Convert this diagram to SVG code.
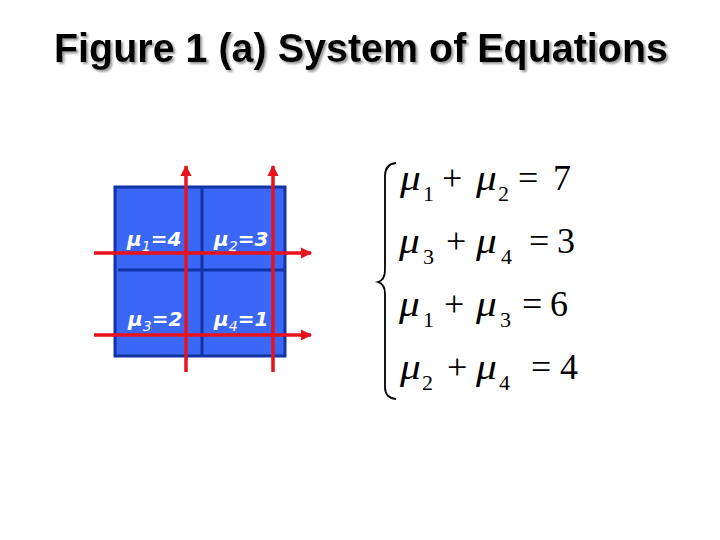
<svg xmlns="http://www.w3.org/2000/svg" width="720" height="540" viewBox="0 0 720 540">
<defs>
<style>
.title{font-family:"Liberation Sans",Arial,sans-serif;font-weight:bold;font-size:40px;fill:#000}
.lbl{font-family:"DejaVu Sans",Verdana,sans-serif;font-weight:bold;font-style:italic;font-size:20px;fill:#ffffff}
.lsub{font-size:14px;font-weight:normal}
.eq{font-family:"Liberation Serif","Times New Roman",serif;font-size:36px;fill:#000}
.mu{font-style:italic}
.sub{font-family:"Liberation Serif","Times New Roman",serif;font-size:22px;fill:#000}
.cell{fill:#3a67f5;stroke:#1232a8;stroke-width:3}
.arrow{stroke:#e8121c;stroke-width:3.5;fill:none}
</style>
<filter id="sh" x="-5%" y="-20%" width="110%" height="150%">
<feDropShadow dx="2" dy="2" stdDeviation="1" flood-color="#808080" flood-opacity="0.8"/>
</filter>
<marker id="ah" viewBox="0 0 10 10" refX="9" refY="5" markerWidth="3.6" markerHeight="3.2" orient="auto" markerUnits="strokeWidth">
<path d="M0,0 L10,5 L0,10 z" fill="#e8121c"/>
</marker>
</defs>
<rect width="720" height="540" fill="#ffffff"/>
<g id="title">
<text class="title" x="54" y="62" textLength="614" lengthAdjust="spacingAndGlyphs" filter="url(#sh)">Figure 1 (a) System of Equations</text>
</g>
<g id="grid">
<rect class="cell" x="115" y="187" width="170" height="169"/>
<line x1="202" y1="187" x2="202" y2="356" stroke="#1232a8" stroke-width="3"/>
<line x1="118" y1="270" x2="284" y2="270" stroke="#1232a8" stroke-width="3"/>
</g>
<g id="cell1"><text class="lbl" x="127" y="246">μ<tspan class="lsub" dy="5">1</tspan><tspan dy="-5">=4</tspan></text></g>
<g id="cell2"><text class="lbl" x="214" y="246">μ<tspan class="lsub" dy="5">2</tspan><tspan dy="-5">=3</tspan></text></g>
<g id="cell3"><text class="lbl" x="128" y="326">μ<tspan class="lsub" dy="5">3</tspan><tspan dy="-5">=2</tspan></text></g>
<g id="cell4"><text class="lbl" x="214" y="326">μ<tspan class="lsub" dy="5">4</tspan><tspan dy="-5">=1</tspan></text></g>
<g id="connectors">
<line class="arrow" x1="186" y1="372" x2="186" y2="166" marker-end="url(#ah)"/>
<line class="arrow" x1="273" y1="372" x2="273" y2="166" marker-end="url(#ah)"/>
<line class="arrow" x1="94" y1="253" x2="311" y2="253" marker-end="url(#ah)"/>
<line class="arrow" x1="94" y1="335" x2="311" y2="335" marker-end="url(#ah)"/>
</g>
<g id="equations">
<path d="M396,163 Q385,164 385,176 L385,270 Q385,280 378,282 Q385,284 385,294 L385,387 Q385,398 396,399" fill="none" stroke="#000" stroke-width="1.8"/>
<text class="eq mu" transform="translate(400,190) scale(1.15,1)">μ</text><text class="sub" x="423" y="201">1</text><text class="eq" x="442" y="190">+</text><text class="eq mu" transform="translate(476,190) scale(1.15,1)">μ</text><text class="sub" x="498" y="201">2</text><text class="eq" x="518" y="190">=</text><text class="eq" x="553" y="190">7</text>
<text class="eq mu" transform="translate(399,253) scale(1.15,1)">μ</text><text class="sub" x="423" y="264">3</text><text class="eq" x="446" y="253">+</text><text class="eq mu" transform="translate(476,253) scale(1.15,1)">μ</text><text class="sub" x="501" y="264">4</text><text class="eq" x="529" y="253">=</text><text class="eq" x="557" y="253">3</text>
<text class="eq mu" transform="translate(399,316) scale(1.15,1)">μ</text><text class="sub" x="423" y="327">1</text><text class="eq" x="444" y="316">+</text><text class="eq mu" transform="translate(476,316) scale(1.15,1)">μ</text><text class="sub" x="500" y="327">3</text><text class="eq" x="522" y="316">=</text><text class="eq" x="550" y="316">6</text>
<text class="eq mu" transform="translate(400,379) scale(1.15,1)">μ</text><text class="sub" x="422" y="390">2</text><text class="eq" x="447" y="379">+</text><text class="eq mu" transform="translate(476,379) scale(1.15,1)">μ</text><text class="sub" x="499" y="390">4</text><text class="eq" x="531" y="379">=</text><text class="eq" x="560" y="379">4</text>
</g>
</svg>
